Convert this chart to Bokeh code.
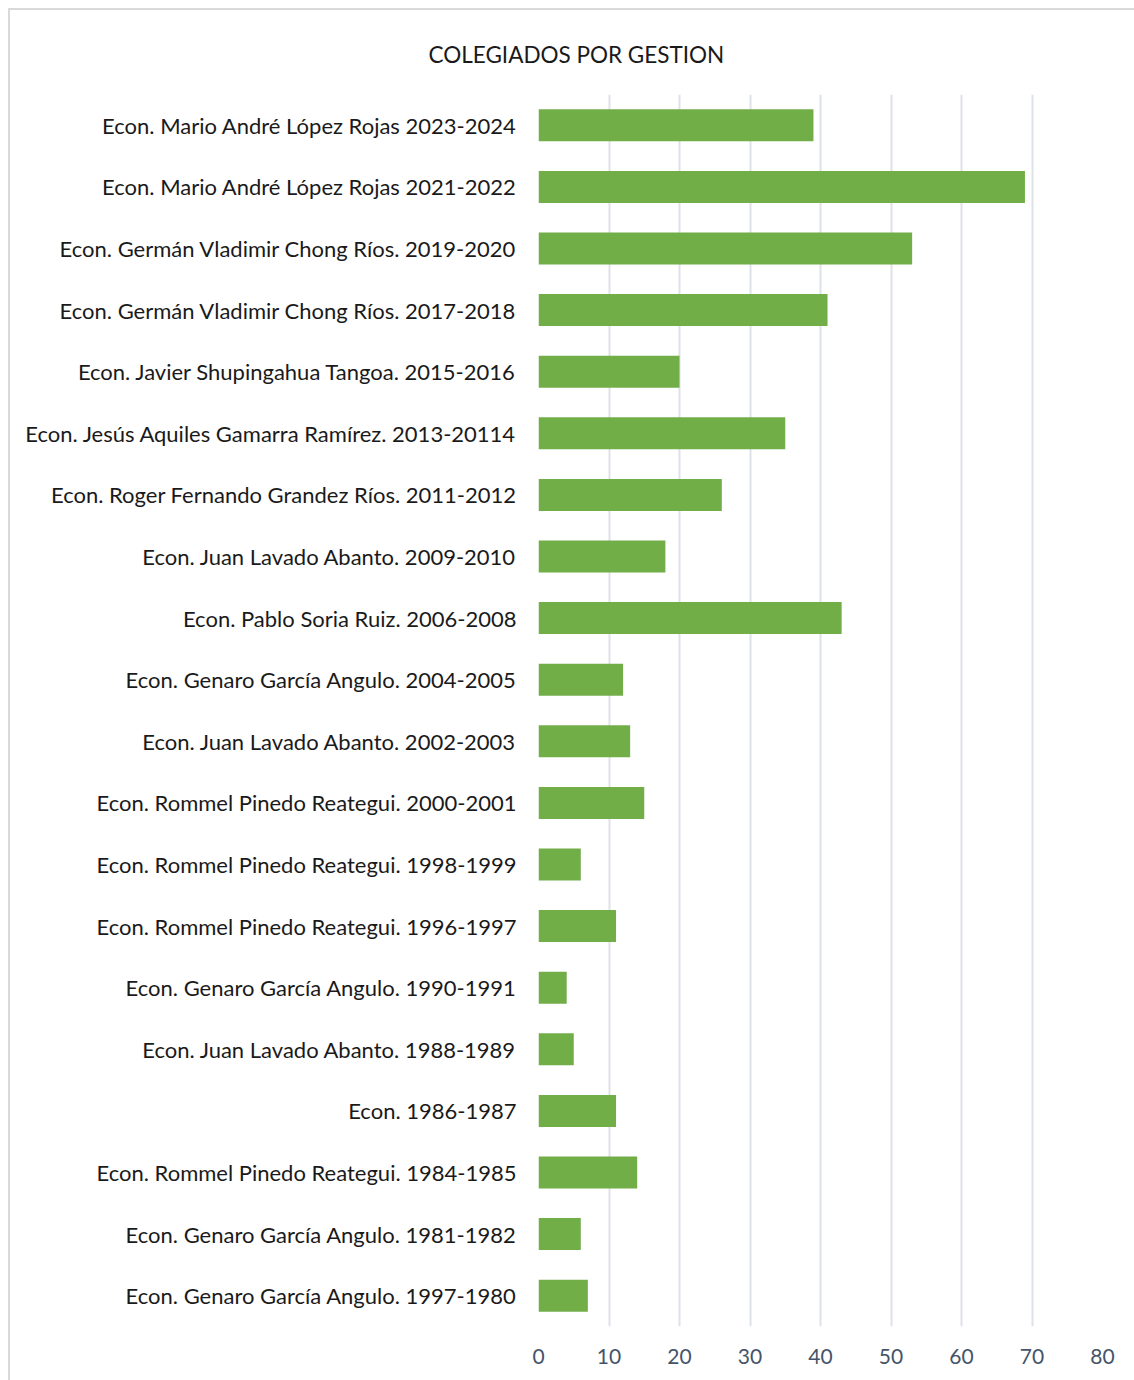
from bokeh.plotting import figure
from bokeh.models import FactorRange, Range1d, FixedTicker
from bokeh.embed import file_html
from bokeh.resources import INLINE

categories = [
    "Econ. Mario André López Rojas 2023-2024",
    "Econ. Mario André López Rojas 2021-2022",
    "Econ. Germán Vladimir Chong Ríos. 2019-2020",
    "Econ. Germán Vladimir Chong Ríos. 2017-2018",
    "Econ. Javier Shupingahua Tangoa. 2015-2016",
    "Econ. Jesús Aquiles Gamarra Ramírez. 2013-20114",
    "Econ. Roger Fernando Grandez Ríos. 2011-2012",
    "Econ. Juan Lavado Abanto. 2009-2010",
    "Econ. Pablo Soria Ruiz. 2006-2008",
    "Econ. Genaro García Angulo. 2004-2005",
    "Econ. Juan Lavado Abanto. 2002-2003",
    "Econ. Rommel Pinedo Reategui. 2000-2001",
    "Econ. Rommel Pinedo Reategui. 1998-1999",
    "Econ. Rommel Pinedo Reategui. 1996-1997",
    "Econ. Genaro García Angulo. 1990-1991",
    "Econ. Juan Lavado Abanto. 1988-1989",
    "Econ. 1986-1987",
    "Econ. Rommel Pinedo Reategui. 1984-1985",
    "Econ. Genaro García Angulo. 1981-1982",
    "Econ. Genaro García Angulo. 1997-1980",
]
values = [39, 69, 53, 41, 20, 35, 26, 18, 43, 12, 13, 15, 6, 11, 4, 5, 11, 14, 6, 7]
x_ticks = [0, 10, 20, 30, 40, 50, 60, 70, 80]
title_text = "COLEGIADOS POR GESTION"

FONT = "Lato"

p = figure(
    width=1126, height=1372,
    y_range=FactorRange(factors=list(reversed(categories)), range_padding=0),
    x_range=Range1d(0, 80),
    output_backend="svg", toolbar_location=None,
    min_border_left=528, min_border_right=34,
    min_border_top=84, min_border_bottom=56,
    title=title_text,
)
p.styles = {"border-left": "2px solid #d9d9d9", "border-top": "2px solid #d9d9d9",
            "margin-left": "8px", "margin-top": "8px"}
p.y_range.factor_padding = 0
p.y_range.range_padding = 0

p.hbar(y=categories, right=values, left=0, height=0.52,
       fill_color="#72ae48", line_color=None)

p.outline_line_color = None
p.background_fill_color = "white"
p.border_fill_color = "white"

p.title.align = "left"
p.title.offset = -110
p.title.vertical_align = "top"
p.title.text_font = FONT
p.title.text_font_size = "22.5px"
p.title.text_font_style = "normal"
p.title.text_color = "#1a1a1a"
p.title.standoff = 50

p.ygrid.grid_line_color = None
p.xgrid.grid_line_color = "#dde1e8"
p.xgrid.grid_line_width = 2
p.xaxis.ticker = FixedTicker(ticks=x_ticks)

for ax in (p.xaxis, p.yaxis):
    ax.axis_line_color = None
    ax.major_tick_line_color = None
    ax.minor_tick_line_color = None
    ax.major_label_text_font = FONT

p.yaxis.major_label_text_font_size = "22px"
p.yaxis.major_label_text_color = "#1a1a1a"
p.yaxis.major_label_standoff = 16
p.xaxis.major_label_text_font_size = "21px"
p.xaxis.major_label_text_color = "#44546a"
p.xaxis.major_label_standoff = 16

open("out.html", "w").write(file_html(p, INLINE))
